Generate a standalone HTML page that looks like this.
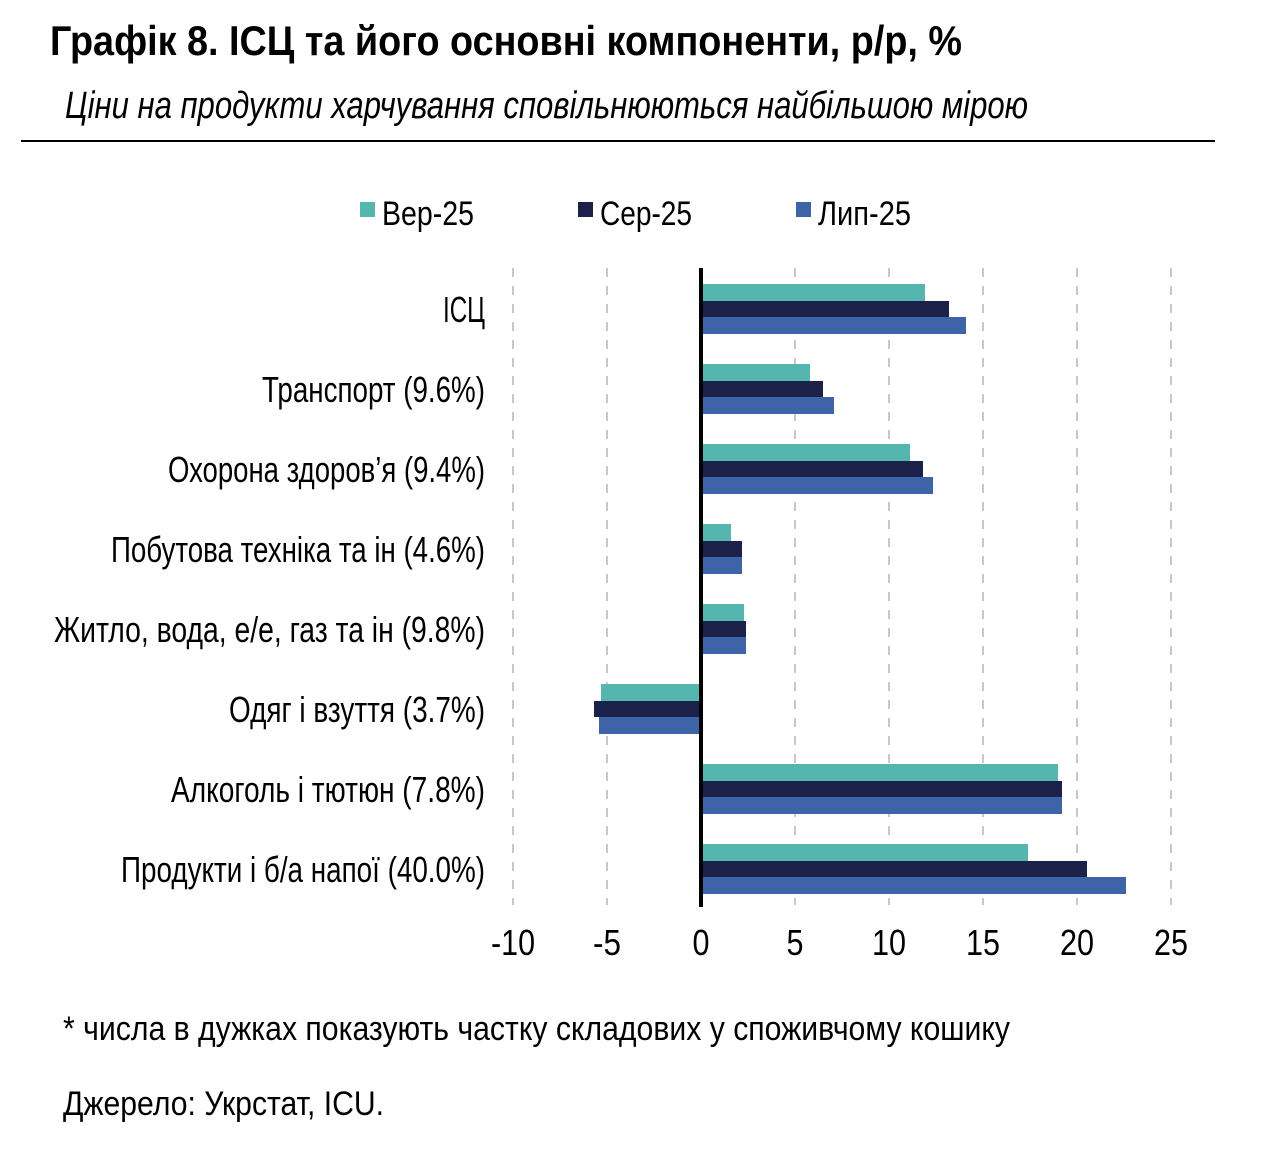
<!DOCTYPE html>
<html><head><meta charset="utf-8"><style>body{margin:0;background:#fff}svg{display:block}</style></head>
<body>
<svg width="1262" height="1155" viewBox="0 0 1262 1155" xmlns="http://www.w3.org/2000/svg" font-family="'Liberation Sans Narrow','Liberation Sans',sans-serif">
<text x="50" y="55" font-size="42" font-weight="bold" textLength="912" lengthAdjust="spacingAndGlyphs">Графік 8. ІСЦ та його основні компоненти, р/р, %</text>
<text x="65" y="118" font-size="38" font-style="italic" textLength="963" lengthAdjust="spacingAndGlyphs">Ціни на продукти харчування сповільнюються найбільшою мірою</text>
<line x1="21" y1="141" x2="1215" y2="141" stroke="#000" stroke-width="2"/>
<g font-size="34">
<rect x="360" y="202" width="15" height="15" fill="#55b6b0"/><text x="382" y="225" textLength="92" lengthAdjust="spacingAndGlyphs">Вер-25</text>
<rect x="578" y="202" width="15" height="15" fill="#1b2249"/><text x="600" y="225" textLength="92" lengthAdjust="spacingAndGlyphs">Сер-25</text>
<rect x="796" y="202" width="15" height="15" fill="#3e64a8"/><text x="818" y="225" textLength="93" lengthAdjust="spacingAndGlyphs">Лип-25</text>
</g>
<g stroke="#c8c8c8" stroke-width="2" stroke-dasharray="9,9">
<line x1="513" y1="268" x2="513" y2="905"/><line x1="607" y1="268" x2="607" y2="905"/>
<line x1="795" y1="268" x2="795" y2="905"/><line x1="889" y1="268" x2="889" y2="905"/>
<line x1="983" y1="268" x2="983" y2="905"/><line x1="1077" y1="268" x2="1077" y2="905"/>
<line x1="1171" y1="268" x2="1171" y2="905"/>
</g>
<g>
<rect x="703" y="284" width="222" height="17" fill="#55b6b0"/><rect x="703" y="301" width="246" height="16" fill="#1b2249"/><rect x="703" y="317" width="263" height="17" fill="#3e64a8"/>
<rect x="703" y="364" width="107" height="17" fill="#55b6b0"/><rect x="703" y="381" width="120" height="16" fill="#1b2249"/><rect x="703" y="397" width="131" height="17" fill="#3e64a8"/>
<rect x="703" y="444" width="207" height="17" fill="#55b6b0"/><rect x="703" y="461" width="220" height="16" fill="#1b2249"/><rect x="703" y="477" width="230" height="17" fill="#3e64a8"/>
<rect x="703" y="524" width="28" height="17" fill="#55b6b0"/><rect x="703" y="541" width="39" height="16" fill="#1b2249"/><rect x="703" y="557" width="39" height="17" fill="#3e64a8"/>
<rect x="703" y="604" width="41" height="17" fill="#55b6b0"/><rect x="703" y="621" width="43" height="16" fill="#1b2249"/><rect x="703" y="637" width="43" height="17" fill="#3e64a8"/>
<rect x="601" y="684" width="98" height="17" fill="#55b6b0"/><rect x="594" y="701" width="105" height="16" fill="#1b2249"/><rect x="599" y="717" width="100" height="17" fill="#3e64a8"/>
<rect x="703" y="764" width="355" height="17" fill="#55b6b0"/><rect x="703" y="781" width="359" height="16" fill="#1b2249"/><rect x="703" y="797" width="359" height="17" fill="#3e64a8"/>
<rect x="703" y="844" width="325" height="17" fill="#55b6b0"/><rect x="703" y="861" width="384" height="16" fill="#1b2249"/><rect x="703" y="877" width="423" height="17" fill="#3e64a8"/>
</g>
<line x1="701" y1="268" x2="701" y2="907" stroke="#000" stroke-width="4"/>
<g font-size="36" text-anchor="end">
<text x="485" y="322" textLength="42" lengthAdjust="spacingAndGlyphs">ІСЦ</text>
<text x="485" y="402" textLength="223" lengthAdjust="spacingAndGlyphs">Транспорт (9.6%)</text>
<text x="485" y="482" textLength="317" lengthAdjust="spacingAndGlyphs">Охорона здоров’я (9.4%)</text>
<text x="485" y="562" textLength="374" lengthAdjust="spacingAndGlyphs">Побутова техніка та ін (4.6%)</text>
<text x="485" y="642" textLength="431" lengthAdjust="spacingAndGlyphs">Житло, вода, е/е, газ та ін (9.8%)</text>
<text x="485" y="722" textLength="256" lengthAdjust="spacingAndGlyphs">Одяг і взуття (3.7%)</text>
<text x="485" y="802" textLength="314" lengthAdjust="spacingAndGlyphs">Алкоголь і тютюн (7.8%)</text>
<text x="485" y="882" textLength="364" lengthAdjust="spacingAndGlyphs">Продукти і б/а напої (40.0%)</text>
</g>
<g font-size="36" text-anchor="middle" lengthAdjust="spacingAndGlyphs">
<text x="513" y="955" textLength="44" lengthAdjust="spacingAndGlyphs">-10</text><text x="607" y="955" textLength="28" lengthAdjust="spacingAndGlyphs">-5</text><text x="701" y="955" textLength="17" lengthAdjust="spacingAndGlyphs">0</text>
<text x="795" y="955" textLength="17" lengthAdjust="spacingAndGlyphs">5</text><text x="889" y="955" textLength="34" lengthAdjust="spacingAndGlyphs">10</text><text x="983" y="955" textLength="34" lengthAdjust="spacingAndGlyphs">15</text>
<text x="1077" y="955" textLength="34" lengthAdjust="spacingAndGlyphs">20</text><text x="1171" y="955" textLength="34" lengthAdjust="spacingAndGlyphs">25</text>
</g>
<text x="63" y="1040" font-size="34" textLength="947" lengthAdjust="spacingAndGlyphs">* числа в дужках показують частку складових у споживчому кошику</text>
<text x="63" y="1115" font-size="34" textLength="321" lengthAdjust="spacingAndGlyphs">Джерело: Укрстат, ICU.</text>
</svg>
</body></html>
